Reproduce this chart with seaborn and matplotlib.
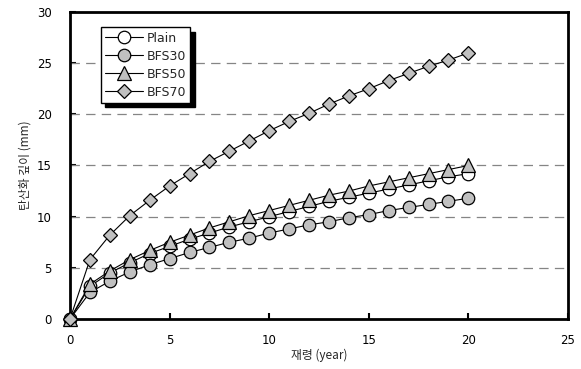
import matplotlib
matplotlib.use("Agg")
import matplotlib.pyplot as plt
import seaborn as sns
import pandas as pd

# Carbonation depth (mm) versus age (years) for each binder mix
years = list(range(0, 21))
plain = [0, 3.2, 4.5, 5.5, 6.4, 7.1, 7.8, 8.4, 9.0, 9.5, 10.0,
         10.5, 11.0, 11.5, 11.9, 12.3, 12.7, 13.1, 13.5, 13.9, 14.2]
bfs30 = [0, 2.6, 3.7, 4.6, 5.3, 5.9, 6.5, 7.0, 7.5, 7.9, 8.4,
         8.8, 9.2, 9.5, 9.9, 10.2, 10.6, 10.9, 11.2, 11.5, 11.8]
bfs50 = [0, 3.4, 4.7, 5.8, 6.7, 7.5, 8.2, 8.9, 9.5, 10.1, 10.6,
         11.1, 11.6, 12.1, 12.5, 13.0, 13.4, 13.8, 14.2, 14.6, 15.0]
bfs70 = [0, 5.8, 8.2, 10.1, 11.6, 13.0, 14.2, 15.4, 16.4, 17.4, 18.4,
         19.3, 20.1, 21.0, 21.8, 22.5, 23.3, 24.0, 24.7, 25.3, 26.0]
series_names = ["Plain", "BFS30", "BFS50", "BFS70"]
x_ticks = [0, 5, 10, 15, 20, 25]
y_ticks = [0, 5, 10, 15, 20, 25, 30]

df = pd.DataFrame({
    "year": years * 4,
    "depth": plain + bfs30 + bfs50 + bfs70,
    "mix": sum([[n] * len(years) for n in series_names], []),
})

sns.set_style("white")
plt.rcParams["font.family"] = ["DejaVu Sans", "Noto Sans CJK KR"]

fig = plt.figure(figsize=(5.81, 3.69), dpi=100)
ax = fig.add_axes([0.1205, 0.1355, 0.8571, 0.832])

gray = "#c0c0c0"
styles = {
    "Plain": dict(marker="o", markerfacecolor="white", markersize=9),
    "BFS30": dict(marker="o", markerfacecolor=gray, markersize=9),
    "BFS50": dict(marker="^", markerfacecolor=gray, markersize=10),
    "BFS70": dict(marker="D", markerfacecolor=gray, markersize=7.5),
}
for name in series_names:
    sub = df[df["mix"] == name]
    sns.lineplot(data=sub, x="year", y="depth", ax=ax, color="black",
                 linewidth=0.8, markeredgecolor="black", markeredgewidth=0.9,
                 label=name, zorder=3, clip_on=False, **styles[name])

ax.set_xlim(0, 25)
ax.set_ylim(0, 30)
ax.set_xticks(x_ticks)
ax.set_yticks(y_ticks)
for y in y_ticks[1:-1]:
    ax.axhline(y, color="#858585", linestyle=(0, (7.5, 5)), linewidth=0.9, zorder=1)

for s in ax.spines.values():
    s.set_linewidth(2.0)
    s.set_color("black")
ax.tick_params(direction="in", length=4, width=1.5, labelsize=8.5,
               colors="black", left=True, bottom=True)
ax.tick_params(axis="x", pad=11)
ax.tick_params(axis="y", pad=13)
ax.set_xlabel("재령 (year)", fontsize=8.5, family=["Noto Sans CJK KR", "DejaVu Sans"], labelpad=1)
ax.set_ylabel("탄산화 깊이 (mm)", fontsize=8.5, family=["Noto Sans CJK KR", "DejaVu Sans"], labelpad=4)

leg = ax.legend(loc="upper left", bbox_to_anchor=(0.062, 0.95), frameon=True,
                fancybox=False, edgecolor="black", framealpha=1, fontsize=9,
                handlelength=3.0, handletextpad=0.3, labelspacing=0.4,
                borderpad=0.35, borderaxespad=0,
                shadow={"ox": 3, "oy": -3, "color": "black", "alpha": 1})
leg.get_frame().set_linewidth(1.0)

fig.savefig("out.png", dpi=100)
